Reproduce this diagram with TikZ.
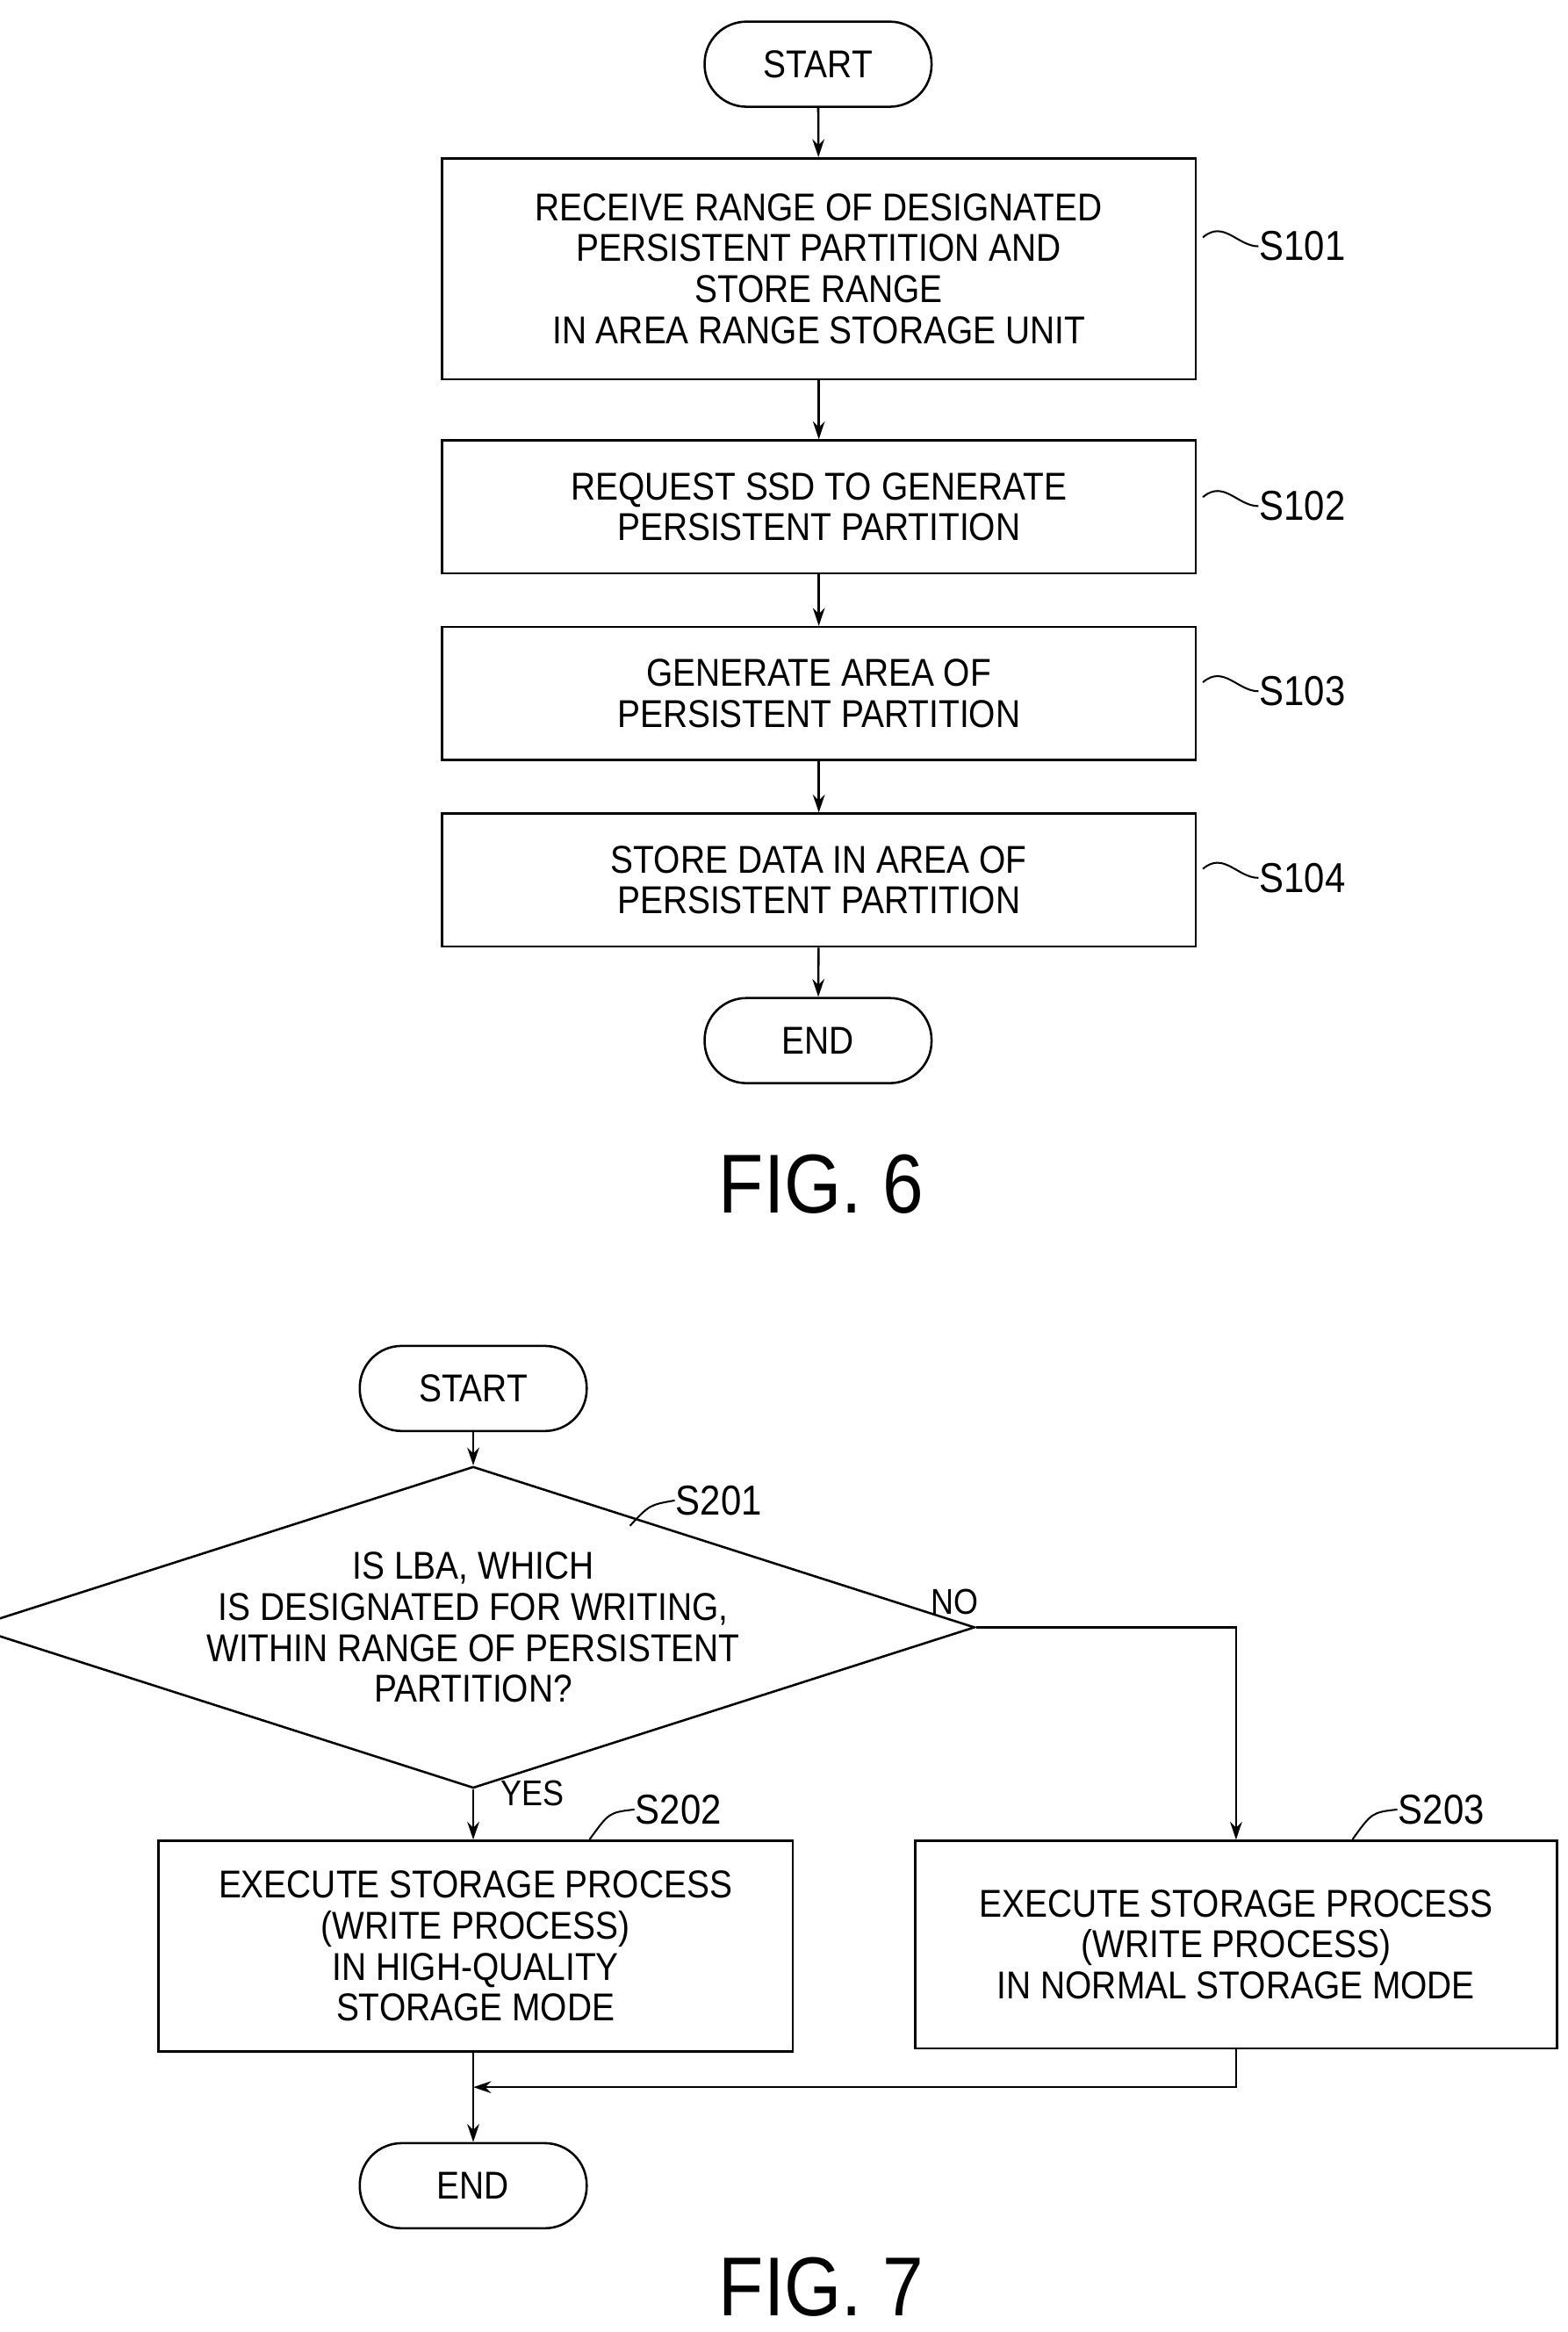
\documentclass[tikz,border=0pt]{standalone}
\usepackage{fontspec}
\setmainfont{Liberation Sans}[FakeStretch=0.88]
\usetikzlibrary{arrows.meta,shapes.geometric}
\begin{document}
\begin{tikzpicture}[x=1pt,y=-1pt,line width=1.5pt,
  txt/.style={font=\fontsize{26}{27.5}\selectfont,align=center},
  pill/.style={txt,draw,rounded corners=28pt,minimum width=152pt,minimum height=57pt,inner sep=0pt},
  box/.style={txt,draw,minimum height=89pt,inner sep=0pt},
  lab/.style={font=\fontsize{28}{30}\selectfont,anchor=west,inner sep=0pt},
  arr/.style={-{Stealth[length=12pt,width=8pt]}},
  lead/.style={line width=1.2pt},
  fig/.style={font=\fontsize{56}{60}\selectfont}]
\useasboundingbox (0,0) rectangle (1050,1562);
% FIG 6
\node[pill] (s1) at (548,43) {START};
\node[box,minimum width=505pt,minimum height=148pt] (b1) at (548.5,180) {RECEIVE RANGE OF DESIGNATED\\PERSISTENT PARTITION AND\\STORE RANGE\\IN AREA RANGE STORAGE UNIT};
\node[box,minimum width=505pt] (b2) at (548.5,339.5) {REQUEST SSD TO GENERATE\\PERSISTENT PARTITION};
\node[box,minimum width=505pt] (b3) at (548.5,464.5) {GENERATE AREA OF\\PERSISTENT PARTITION};
\node[box,minimum width=505pt] (b4) at (548.5,589.5) {STORE DATA IN AREA OF\\PERSISTENT PARTITION};
\node[pill] (e1) at (548,697) {END};
\draw[arr] (s1) -- (b1);
\draw[arr] (b1) -- (b2);
\draw[arr] (b2) -- (b3);
\draw[arr] (b3) -- (b4);
\draw[arr] (b4) -- (e1);
\foreach \b/\t/\y in {b1/S101/165,b2/S102/339,b3/S103/463,b4/S104/588}{
  \node[lab] (l\b) at (843,\y) {\t};
  \draw[lead] ([xshift=4pt,yshift=6pt]\b.east |- l\b.west) .. controls +(14,-12) and +(-14,0) .. (l\b.west);
}
\node[fig] (f6) at (550,793) {FIG. 6};
% FIG 7
\node[pill] (s2) at (317,930) {START};
\node[txt,draw,diamond,aspect=3.12,minimum width=606pt,minimum height=194pt,inner sep=0pt] (d) at (317,1090) {IS LBA, WHICH\\IS DESIGNATED FOR WRITING,\\WITHIN RANGE OF PERSISTENT\\PARTITION?};
\node[box,minimum width=425pt,minimum height=141pt] (b5) at (318.5,1303.5) {EXECUTE STORAGE PROCESS\\(WRITE PROCESS)\\IN HIGH-QUALITY\\STORAGE MODE};
\node[box,minimum width=430pt,minimum height=139pt] (b6) at (828,1302.5) {EXECUTE STORAGE PROCESS\\(WRITE PROCESS)\\IN NORMAL STORAGE MODE};
\node[pill] (e2) at (317,1464) {END};
\draw[arr] (s2) -- (d.north);
\draw[arr] (d.south) -- (b5.north -| d.south);
\draw[arr] (d.east) -- (828,1090) -- (b6.north);
\coordinate (j) at (317,1398);
\draw[arr] (b6.south) -- (828,1398) -- (j);
\draw[arr] (b5.south -| j) -- (e2.north);
\node[font=\fontsize{24}{26}\selectfont,anchor=west,inner sep=0pt] (no) at (623,1073) {NO};
\node[font=\fontsize{24}{26}\selectfont,anchor=west,inner sep=0pt] (yes) at (335,1201) {YES};
\node[lab] (l7) at (452,1005) {S201};
\draw[lead] (422,1022) .. controls (435,1008) .. (l7.west);
\node[lab] (l8) at (425,1212) {S202};
\draw[lead] (395,1232) .. controls (408,1214) .. (l8.west);
\node[lab] (l9) at (936,1212) {S203};
\draw[lead] (906,1232) .. controls (919,1214) .. (l9.west);
\node[fig] (f7) at (550,1532) {FIG. 7};
\end{tikzpicture}
\end{document}
